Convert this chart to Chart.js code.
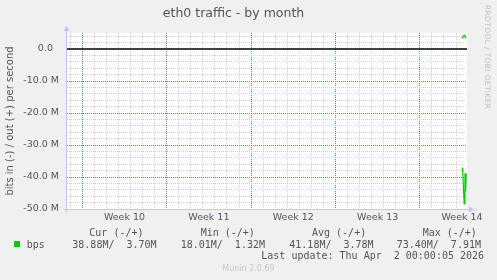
<!DOCTYPE html>
<html><head><meta charset="utf-8">
<script src="https://cdn.jsdelivr.net/npm/chart.js@4/dist/chart.umd.min.js"></script>
<style>
html,body{margin:0;padding:0;background:#f0f0f0;}
#wrap{position:relative;width:497px;height:280px;overflow:hidden;background:#f0f0f0;}
#wrap canvas{position:absolute;left:0;top:0;}
.m{position:absolute;font-family:"DejaVu Sans Mono",monospace;font-size:10px;line-height:12px;color:#555;white-space:pre;}
.sq{position:absolute;left:14px;top:241px;width:6px;height:6px;background:#00cc00;}
.munin{position:absolute;left:0;width:497px;top:263px;text-align:center;font-family:"DejaVu Sans",sans-serif;font-size:8px;line-height:12px;color:#c8c8c8;}
.wm{position:absolute;left:483px;top:5px;writing-mode:vertical-rl;font-family:"DejaVu Sans",sans-serif;font-size:7.5px;color:#c0c0c0;letter-spacing:0.35px;}
</style></head>
<body>
<div id="wrap">
<canvas id="c" width="497" height="280"></canvas>
<div class="wm">RRDTOOL / TOBI OETIKER</div>
<div class="m" style="left:89.3px;top:227px;">Cur (-/+)</div>
<div class="m" style="left:200.7px;top:227px;">Min (-/+)</div>
<div class="m" style="left:312px;top:227px;">Avg (-/+)</div>
<div class="m" style="left:422.7px;top:227px;">Max (-/+)</div>
<div class="sq"></div>
<div class="m" style="left:26.7px;top:239px;">bps</div>
<div class="m" style="left:72.3px;top:239px;">38.88M/  3.70M</div>
<div class="m" style="left:180.7px;top:239px;">18.01M/  1.32M</div>
<div class="m" style="left:289.3px;top:239px;">41.18M/  3.78M</div>
<div class="m" style="left:396.7px;top:239px;">73.40M/  7.91M</div>
<div class="m" style="left:261.3px;top:250px;">Last update: Thu Apr  2 00:00:05 2026</div>
<div class="munin">Munin 2.0.69</div>
</div>
<script>
// ---- data (x = days since Monday of Week 10) ----
const X_MIN = -1.27;
const X_MAX = 31.91;
const WEEK_LABELS = ['Week 10', 'Week 11', 'Week 12', 'Week 13', 'Week 14'];
const WEEK_LABEL_DAYS = [3.5, 10.5, 17.5, 24.5, 31.5];
const Y_MIN = -50e6;
const Y_MAX = 5e6;
const Y_LABEL_VALUES = [-50e6, -40e6, -30e6, -20e6, -10e6, 0];
const Y_LABELS = ['-50.0 M', '-40.0 M', '-30.0 M', '-20.0 M', '-10.0 M', '0.0  '];
const TIME_DAYS = [31.51, 31.56, 31.62, 31.68, 31.74, 31.80, 31.85];
const OUT_BPS = [3.4e6, 3.8e6, 4.1e6, 4.3e6, 3.9e6, 3.6e6, 3.7e6];
const IN_BPS = [-37.1e6, -38.6e6, -44.0e6, -48.4e6, -38.8e6, -44.5e6, -38.9e6];

const GREEN = '#00cc00';
const AXIS = '#c4c4f4';
const MAJOR = 'rgb(255,70,70)';
const MINOR = 'rgb(208,208,208)';
const TXT = '#555';

const dayTicks = [];
for (let d = Math.ceil(X_MIN); d <= Math.floor(X_MAX); d++) dayTicks.push(d);
const yTicks = [];
for (let v = Y_MIN; v < Y_MAX; v += 2e6) yTicks.push(v);

const isMajorX = v => Number.isInteger(v) && ((v % 7) + 7) % 7 === 0;
const isMajorY = v => Math.abs(v % 10e6) < 1;

const bgPlugin = {
  id: 'bg',
  beforeDraw(chart) {
    const {ctx, chartArea: a} = chart;
    ctx.save();
    ctx.fillStyle = '#ffffff';
    ctx.fillRect(a.left, a.top, a.right - a.left, a.bottom - a.top);
    ctx.restore();
  },
  afterDraw(chart) {
    const {ctx, chartArea: a} = chart;
    ctx.save();
    ctx.fillStyle = AXIS;
    ctx.strokeStyle = AXIS;
    ctx.lineWidth = 1;
    const lx = Math.round(a.left) - 0.5, by = Math.round(a.bottom) + 0.5;
    ctx.beginPath();
    ctx.moveTo(lx, by + 3); ctx.lineTo(lx, a.top - 2);
    ctx.moveTo(lx - 3, by); ctx.lineTo(a.right + 2, by);
    ctx.stroke();
    ctx.beginPath();
    ctx.moveTo(lx - 3, a.top - 2); ctx.lineTo(lx + 3, a.top - 2); ctx.lineTo(lx, a.top - 7); ctx.closePath(); ctx.fill();
    ctx.beginPath();
    ctx.moveTo(a.right + 2, by - 3); ctx.lineTo(a.right + 2, by + 3); ctx.lineTo(a.right + 7, by); ctx.closePath(); ctx.fill();
    ctx.restore();
  }
};

new Chart(document.getElementById('c'), {
  type: 'line',
  data: {
    datasets: [
      { label: 'zero', data: [{x: X_MIN, y: 0}, {x: X_MAX, y: 0}], borderColor: '#000', borderWidth: 1.5, pointRadius: 0 },
      { label: 'bps out', data: TIME_DAYS.map((t, i) => ({x: t, y: OUT_BPS[i]})), borderColor: GREEN, borderWidth: 1.2, pointRadius: 0, tension: 0 },
      { label: 'bps in', data: TIME_DAYS.map((t, i) => ({x: t, y: IN_BPS[i]})), borderColor: GREEN, borderWidth: 1.2, pointRadius: 0, tension: 0 }
    ]
  },
  options: {
    responsive: false,
    animation: false,
    layout: { padding: { left: 0, right: 30, top: 0, bottom: 0 } },
    plugins: {
      legend: { display: false },
      tooltip: { enabled: false },
      title: {
        display: true,
        text: 'eth0 traffic - by month',
        color: TXT,
        font: { family: 'DejaVu Sans', size: 12.5, weight: 'normal', lineHeight: 1.2 },
        padding: { top: 6, bottom: 12 }
      }
    },
    scales: {
      x: {
        type: 'linear',
        min: X_MIN, max: X_MAX,
        afterBuildTicks(scale) {
          scale.ticks = dayTicks.concat(WEEK_LABEL_DAYS).sort((a, b) => a - b).map(v => ({value: v}));
        },
        afterFit(scale) { scale.height = 71; },
        ticks: {
          autoSkip: false, maxRotation: 0, padding: 3,
          color: TXT, font: { family: 'DejaVu Sans', size: 9.5 },
          callback(v) { const i = WEEK_LABEL_DAYS.indexOf(v); return i >= 0 ? WEEK_LABELS[i] : ''; }
        },
        grid: {
          drawTicks: false,
          lineWidth: 1,
          color(ctx) {
            const v = ctx.tick ? ctx.tick.value : null;
            if (v === null || !Number.isInteger(v)) return 'rgba(0,0,0,0)';
            return isMajorX(v) ? MAJOR : MINOR;
          }
        },
        border: { display: false, dash: [1, 1] }
      },
      y: {
        type: 'linear',
        min: Y_MIN, max: Y_MAX,
        afterBuildTicks(scale) { scale.ticks = yTicks.map(v => ({value: v})); },
        afterFit(scale) { scale.width = 67; },
        ticks: {
          autoSkip: false, padding: 8,
          color: TXT, font: { family: 'DejaVu Sans', size: 9.5 },
          callback(v) { const i = Y_LABEL_VALUES.indexOf(v); return i >= 0 ? Y_LABELS[i] : ''; }
        },
        grid: {
          drawTicks: false,
          lineWidth: 1,
          color(ctx) {
            const v = ctx.tick ? ctx.tick.value : null;
            if (v === null) return 'rgba(0,0,0,0)';
            if (v === 0) return 'rgba(0,0,0,0)';
            return isMajorY(v) ? MAJOR : MINOR;
          }
        },
        border: { display: false, dash: [1, 1] },
        title: {
          display: true,
          text: 'bits in (-) / out (+) per second',
          color: TXT,
          font: { family: 'DejaVu Sans', size: 10, lineHeight: 1.2 },
          padding: { top: 4, bottom: 0 }
        }
      }
    }
  },
  plugins: [bgPlugin]
});
</script>
</body></html>
